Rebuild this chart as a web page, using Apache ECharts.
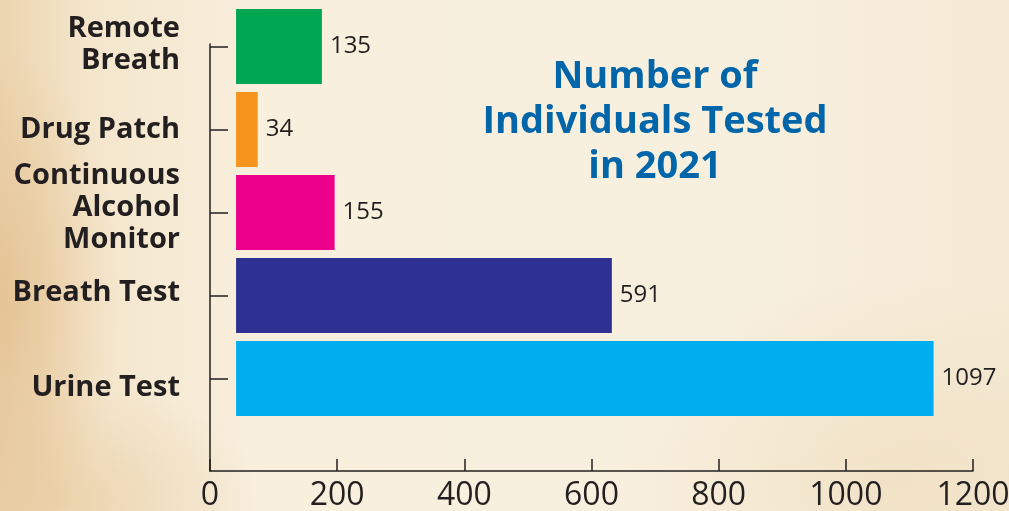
<!DOCTYPE html>
<html>
<head>
<meta charset="utf-8">
<title>Number of Individuals Tested in 2021</title>
<script src="https://cdn.jsdelivr.net/npm/echarts@6/dist/echarts.min.js"></script>
<style>
  html, body { margin: 0; padding: 0; }
  body {
    width: 1009px;
    height: 511px;
    background:
      radial-gradient(ellipse 120px 260px at 0px 300px, rgba(226, 190, 140, 0.75), rgba(226, 190, 140, 0) 100%),
      radial-gradient(ellipse 200px 120px at 60px 500px, rgba(230, 200, 155, 0.6), rgba(230, 200, 155, 0) 100%),
      radial-gradient(ellipse 300px 200px at 900px 480px, rgba(236, 216, 180, 0.5), rgba(236, 216, 180, 0) 100%),
      linear-gradient(to right, #ecd5b0 0px, #f4e6cc 90px, #f8efdd 260px, #f8f0df 700px, #f5ead5 1009px);
  }
  #chart { width: 1009px; height: 511px; }
</style>
</head>
<body>
<div id="chart"></div>
<script>
// data, top to bottom
const categories = ['Remote\nBreath', 'Drug Patch', 'Continuous\nAlcohol\nMonitor', 'Breath Test', 'Urine Test']
const tested = [135, 34, 155, 591, 1097]
const xTicks = [0, 200, 400, 600, 800, 1000, 1200]

const barColors = ['#00a651', '#f7941d', '#ec008c', '#2e3192', '#00aeef']
const barStart = 41 // bars in the original begin a little right of zero
const ink = '#231f20'

// row labels sit a bit off the tick in the original
const rowLabelStyles = {
  r0: { padding: [0, 0, 4, 0] },
  r1: {},
  r2: { padding: [0, 0, 10, 0] },
  r3: { padding: [0, 0, 6, 0] },
  r4: { padding: [18, 0, 0, 0] }
}

const chart = echarts.init(document.getElementById('chart'))
chart.setOption({
  backgroundColor: 'transparent',
  animation: false,
  title: {
    text: 'Number of\nIndividuals Tested\nin 2021',
    left: 650,
    top: 50,
    textAlign: 'center',
    textStyle: {
      fontFamily: 'Open Sans',
      fontWeight: 'bold',
      fontSize: 38,
      lineHeight: 45,
      color: '#0066a9'
    }
  },
  grid: [
    { left: 210, right: 36, top: 5, height: 415, outerBoundsMode: 'none' },
    { left: 210, right: 36, top: 44, bottom: 40, outerBoundsMode: 'none' }
  ],
  xAxis: [{
    gridIndex: 0,
    type: 'value',
    min: xTicks[0],
    max: xTicks[xTicks.length - 1],
    interval: 200,
    show: false
  }, {
    gridIndex: 1,
    type: 'value',
    min: xTicks[0],
    max: xTicks[xTicks.length - 1],
    interval: 200,
    axisLine: { show: true, lineStyle: { color: ink, width: 1.5 } },
    axisTick: { show: true, inside: true, length: 12, lineStyle: { color: ink, width: 1.5 } },
    splitLine: { show: false },
    axisLabel: {
      margin: 9,
      fontFamily: 'Open Sans',
      fontSize: 32,
      color: ink,
      formatter: v => String(v)
    }
  }],
  yAxis: [{
    gridIndex: 0,
    type: 'category',
    inverse: true,
    data: categories,
    axisLine: { show: false },
    axisTick: { show: true, inside: true, alignWithLabel: true, length: 18, lineStyle: { color: ink, width: 1.5 } },
    axisLabel: {
      margin: 30,
      fontFamily: 'Open Sans',
      fontWeight: 'bold',
      fontSize: 29,
      lineHeight: 32,
      color: ink,
      formatter: (v, i) => v.split('\n').map(l => '{r' + i + '|' + l + '}').join('\n'),
      rich: rowLabelStyles
    }
  }, {
    gridIndex: 1,
    type: 'value',
    axisLine: { show: true, lineStyle: { color: ink, width: 1.5 } },
    axisTick: { show: false },
    axisLabel: { show: false },
    splitLine: { show: false }
  }],
  series: [{
    name: 'start',
    type: 'bar',
    stack: 'tested',
    barWidth: 75,
    silent: true,
    itemStyle: { color: 'transparent' },
    data: tested.map(() => barStart)
  }, {
    name: 'Individuals tested',
    type: 'bar',
    stack: 'tested',
    barWidth: 75,
    data: tested.map((v, i) => ({ value: v, itemStyle: { color: barColors[i] } })),
    label: {
      show: true,
      position: 'right',
      distance: 8,
      fontFamily: 'Open Sans',
      fontSize: 24,
      color: ink
    }
  }]
})
</script>
</body>
</html>
